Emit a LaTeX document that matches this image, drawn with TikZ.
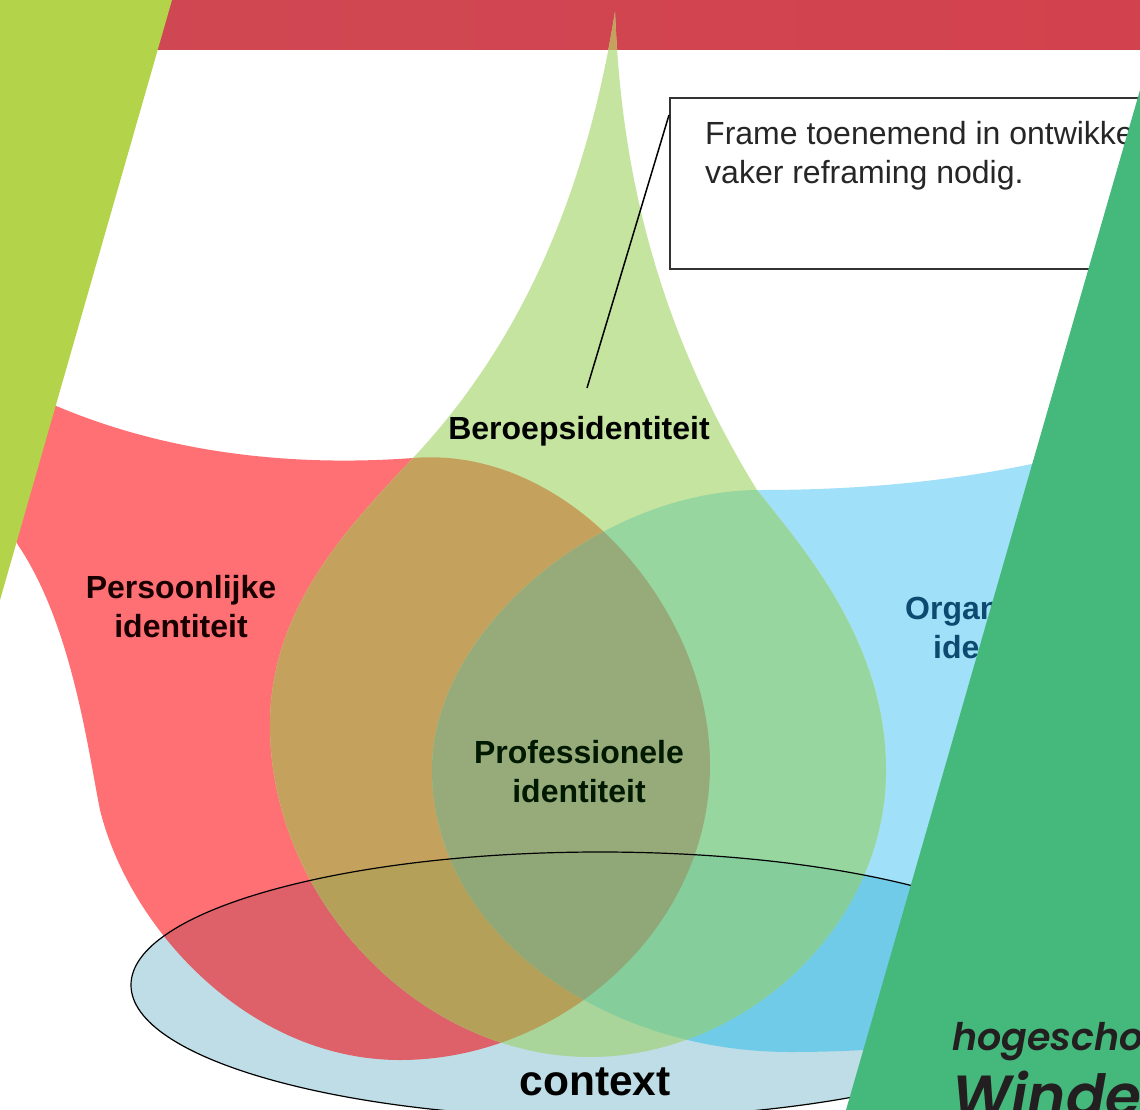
\documentclass[tikz,border=0pt]{standalone}
\usepackage{fontspec}
\setmainfont{Liberation Sans}
\newfontfamily\logofont[ItalicFont={Poppins SemiBold Italic}]{Poppins SemiBold}
\definecolor{cRed}{HTML}{FF7074}
\definecolor{cBlue}{HTML}{A0E0F8}
\definecolor{cGreen}{HTML}{C5E4A0}
\definecolor{cRG}{HTML}{C4A25E}
\definecolor{cGB}{HTML}{98D6A0}
\definecolor{cRGB}{HTML}{97AB7A}
\definecolor{cE}{HTML}{BFDDE6}
\definecolor{cER}{HTML}{DE6068}
\definecolor{cEB}{HTML}{70CBE8}
\definecolor{cEG}{HTML}{A9D59B}
\definecolor{cERG}{HTML}{B5A05A}
\definecolor{cEGB}{HTML}{85CE9C}
\definecolor{cERGB}{HTML}{90A878}
\definecolor{cLime}{HTML}{B2D34A}
\definecolor{cTeal}{HTML}{45B97C}
\definecolor{cInk}{HTML}{231F20}
\definecolor{cOrg}{HTML}{0E4A70}
\definecolor{cBandA}{HTML}{CF4853}
\definecolor{cBandB}{HTML}{DC5E62}
\definecolor{cBandC}{HTML}{D2424E}
\newcommand{\pRed}{(-20,367) .. controls (100,440) and (250,470) .. (413,458) .. controls (570,445) and (710,610) .. (710,765) .. controls (710,930) and (560,1060) .. (400,1060) .. controls (250,1060) and (130,930) .. (100,810) .. controls (88,750) and (72,625) .. (18,545) -- (-20,480) -- cycle}
\newcommand{\pBlue}{(1160,430) .. controls (1050,465) and (930,490) .. (760,490) .. controls (600,490) and (432,630) .. (432,770) .. controls (432,930) and (600,1052) .. (790,1052) .. controls (900,1052) and (1000,1040) .. (1160,1000) -- cycle}
\newcommand{\pGreen}{(615,12) .. controls (620,130) and (640,300) .. (757,490) .. controls (800,545) and (886,640) .. (886,770) .. controls (886,930) and (740,1057) .. (590,1057) .. controls (420,1057) and (270,900) .. (270,725) .. controls (270,610) and (345,530) .. (413,458) .. controls (500,365) and (580,230) .. (615,12) -- cycle}
\newcommand{\pEll}{(600,985) ellipse [x radius=469, y radius=133]}
\tikzset{
  lab/.style={font=\fontsize{32}{39}\selectfont\bfseries, align=center, inner sep=0pt, text=#1},
  lab/.default=black,
  linkline/.style={draw=black, line width=1.5pt},
  logo/.style={text=cInk, anchor=base west, inner sep=0pt}
}
\begin{document}
\begin{tikzpicture}[x=1pt,y=-1pt]
\useasboundingbox (0,0) rectangle (1140,1110);
\fill[white] (0,0) rectangle (1140,1110);
% top band
\shade[left color=cBandA, middle color=cBandB, right color=cBandC] (0,0) rectangle (1140,50);
% base shapes
\fill[cRed] \pRed;
\fill[cBlue] \pBlue;
\fill[cGreen] \pGreen;
\begin{scope}\clip \pGreen; \fill[cRG] (560,0) rectangle (670,50); \end{scope}
\begin{scope}\clip \pRed;  \fill[cRG] \pGreen; \end{scope}
\begin{scope}\clip \pBlue; \fill[cGB] \pGreen; \end{scope}
\begin{scope}\clip \pRed; \clip \pBlue; \fill[cRGB] \pGreen; \end{scope}
% context ellipse
\begin{scope}
  \clip \pEll;
  \fill[cE] (0,800) rectangle (1140,1120);
  \fill[cER] \pRed;
  \fill[cEB] \pBlue;
  \fill[cEG] \pGreen;
  \begin{scope}\clip \pRed;  \fill[cERG] \pGreen; \end{scope}
  \begin{scope}\clip \pBlue; \fill[cEGB] \pGreen; \end{scope}
  \begin{scope}\clip \pRed; \clip \pBlue; \fill[cERGB] \pGreen; \end{scope}
\end{scope}
\draw[black, line width=1.2pt] \pEll;
% frame and link
\node[draw=black!80, line width=2pt, fill=white, minimum width=520pt, minimum height=171pt, anchor=north west, inner sep=0pt] (frame) at (669,97) {};
\node[anchor=base west, inner sep=0pt, font=\fontsize{32}{39}\selectfont, text=black!85, align=left] (frametext) at (705,184) {Frame toenemend in ontwikke\\vaker reframing nodig.};
\coordinate (linkA) at (669,115);
\coordinate (linkB) at (587,388);
\draw[linkline] (linkA) -- (linkB);
% labels
\node[lab=black] (beroep) at (579,431) {Beroepsidentiteit};
\node[lab={black!90!red}] (pers) at (181,607) {Persoonlijke\\identiteit};
\node[lab=black!90!green] (prof) at (579,772) {Professionele\\identiteit};
\node[lab={black}, font=\fontsize{42.5}{46}\selectfont\bfseries] (context) at (595,1082) {context};
\node[lab=cOrg, align=left, anchor=base west] (org1) at (905,619) {Organ};
\node[lab=cOrg, align=left, anchor=base west] (org2) at (933,658) {ide};
% overlay polygons
\fill[cLime] (0,0) -- (172,0) -- (0,600) -- cycle;
\fill[cTeal] (1140,90) -- (846,1110) -- (1140,1110) -- cycle;
\node[logo, font=\logofont\fontsize{38}{40}\selectfont\itshape] (hs) at (952,1050) {hogescho};
\node[logo, font=\logofont\fontsize{58}{60}\selectfont\itshape] (wh) at (952,1116) {Winde};
\end{tikzpicture}
\end{document}
